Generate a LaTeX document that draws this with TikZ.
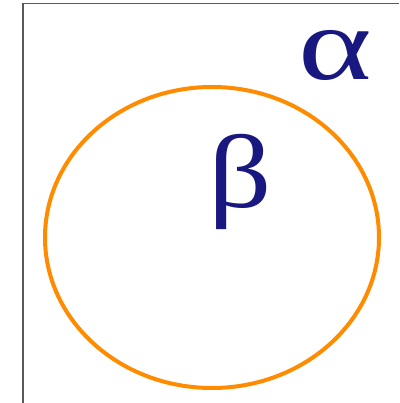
\documentclass[tikz,border=0pt]{standalone}
\usepackage{fontspec}
\setmainfont{Liberation Serif}
\definecolor{navy}{RGB}{24,24,128}
\definecolor{ring}{RGB}{255,140,0}
\begin{document}
\begin{tikzpicture}[x=1pt,y=1pt,
  greek/.style={text=navy,inner sep=0pt,font=\fontsize{104}{110}\selectfont}]
\useasboundingbox (0,0) rectangle (399,403);
\fill[white] (0,0) rectangle (399,403);
\draw[gray!70!black,line width=1.2pt] (23,0) -- (23,399.5) -- (399,399.5);
\draw[ring,line width=4pt] (212,165.5) ellipse [x radius=167,y radius=150.5];
\node[greek,xscale=1.35] (alpha) at (335,347.5) {α};
\node[greek,xscale=1.2] (beta) at (240,221.5) {β};
\end{tikzpicture}
\end{document}
